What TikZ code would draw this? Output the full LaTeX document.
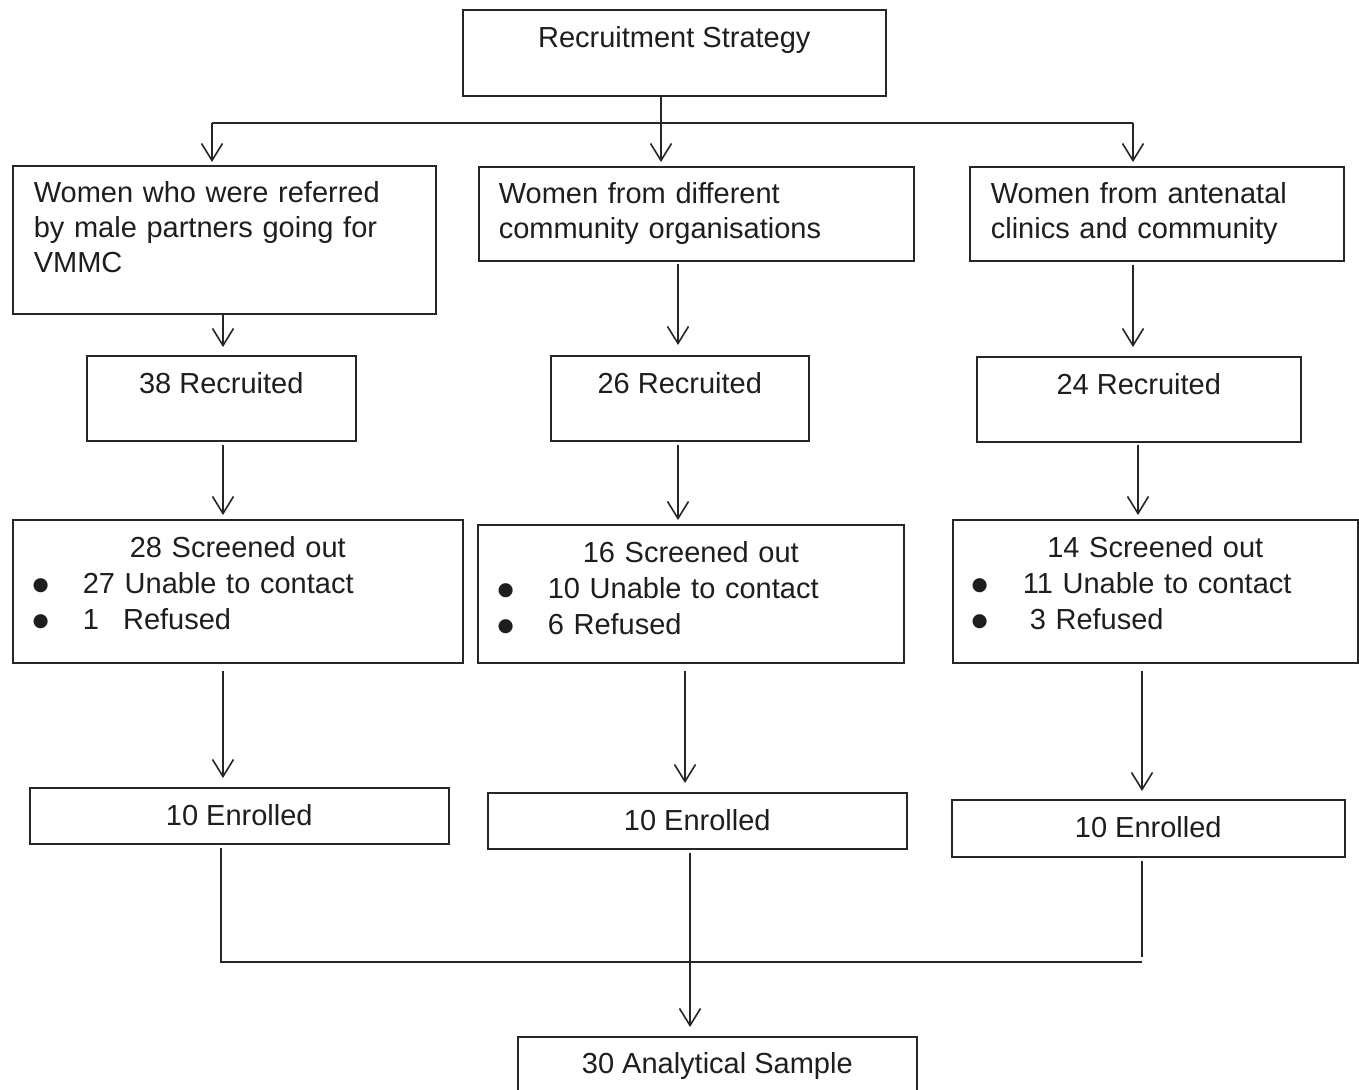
\documentclass[tikz,border=0pt]{standalone}
\usepackage{fontspec}
\setmainfont{Liberation Sans}
\newfontfamily\symfont{DejaVu Sans}
\usetikzlibrary{arrows.meta}
\definecolor{lc}{HTML}{262626}
\definecolor{tc}{HTML}{1E1E1E}
\newcommand{\bul}{\makebox[0pt][c]{\raisebox{3.5pt}{\symfont\fontsize{18.5}{20}\selectfont ●}}}
\begin{document}
\begin{tikzpicture}[x=1pt,y=-1pt,
  box/.style={draw=lc, line width=1.6pt, rectangle, inner sep=0pt, anchor=north west,
    text height=38pt, font=\fontsize{29}{35}\selectfont, align=center, text=tc},
  lbox/.style={box, align=left, text height=37pt},
  arr/.style={draw=lc, line width=1.6pt, -{Straight Barb[length=17pt,width=21pt,line width=1.6pt]}},
  ln/.style={draw=lc, line width=1.6pt}]
\useasboundingbox (0,0) rectangle (1359,1089);
\fill[white] (0,0) rectangle (1359,1089);
\begin{scope}
\clip (0,0) rectangle (1359,1089);
% level 0
\node[box, minimum width=423pt, text depth=48pt] (top) at (462,9) {Recruitment Strategy};
% level 1
\node[lbox, text width=381pt, inner xsep=21pt, text depth=111pt] (b1) at (12,165)
  {Women who were referred\\by male partners going for\\VMMC};
\node[lbox, text width=395pt, inner xsep=20pt, text depth=57pt] (b2) at (478,166)
  {Women from different\\community organisations};
\node[lbox, text width=332pt, inner xsep=21pt, text depth=57pt] (b3) at (969,166)
  {Women from antenatal\\clinics and community};
% level 2
\node[box, minimum width=269pt, text depth=47pt] (r1) at (86,355) {38 Recruited};
\node[box, minimum width=258pt, text depth=47pt] (r2) at (550,355) {26 Recruited};
\node[box, minimum width=324pt, text depth=47pt] (r3) at (976,356) {24 Recruited};
% level 3
\node[box, align=left, text width=450pt, text depth=105pt, font=\fontsize{29}{36}\selectfont] (s1) at (12,519)
  {{\centering 28 Screened out\par}%
   \hspace*{28pt}\bul\hspace*{42pt}27 Unable to contact\par
   \hspace*{28pt}\bul\hspace*{42pt}\makebox[40.3pt][l]{1}Refused\par};
\node[box, align=left, text width=426pt, text depth=100pt, font=\fontsize{29}{36}\selectfont] (s2) at (477,524)
  {{\centering 16 Screened out\par}%
   \hspace*{28pt}\bul\hspace*{42pt}10 Unable to contact\par
   \hspace*{28pt}\bul\hspace*{42pt}6 Refused\par};
\node[box, align=left, text width=405pt, text depth=105pt, font=\fontsize{29}{36}\selectfont] (s3) at (952,519)
  {{\centering 14 Screened out\par}%
   \hspace*{27pt}\bul\hspace*{43pt}11 Unable to contact\par
   \hspace*{27pt}\bul\hspace*{50pt}3 Refused\par};
% level 4
\node[box, minimum width=419pt, text depth=18pt] (e1) at (29,787) {10 Enrolled};
\node[box, minimum width=419pt, text depth=18pt] (e2) at (487,792) {10 Enrolled};
\node[box, minimum width=393pt, text depth=19pt] (e3) at (951,799) {10 Enrolled};
% final
\node[box, minimum width=399pt, text height=37pt, text depth=27pt] (fin) at (517,1036) {30 Analytical Sample};

% junction coordinates
\coordinate (jc) at (661,123);
\coordinate (jl) at (212,123);
\coordinate (jr) at (1133,123);
\coordinate (xa) at (223,0);
\coordinate (xb) at (678,0);
\coordinate (xc) at (1133,0);
\coordinate (xd) at (1138,0);
\coordinate (xe) at (685,0);
\coordinate (xf) at (1142,0);
\coordinate (xg) at (221,0);
\coordinate (xh) at (690,0);
\coordinate (hl) at (221,962);
\coordinate (hr) at (1142,962);
\coordinate (hre) at (1142,957);

% top split
\draw[arr, shorten >=4pt] (top.south -| jc) -- (b2.north -| jc);
\draw[ln] (jl) -- (jr);
\draw[arr, shorten >=3pt] (jl) -- (b1.north -| jl);
\draw[arr, shorten >=4pt] (jr) -- (b3.north -| jr);
% level 1 -> 2
\draw[arr, shorten >=8pt] (b1.south -| xa) -- (r1.north -| xa);
\draw[arr, shorten <=2pt, shorten >=10pt] (b2.south -| xb) -- (r2.north -| xb);
\draw[arr, shorten <=3pt, shorten >=9pt] (b3.south -| xc) -- (r3.north -| xc);
% level 2 -> 3
\draw[arr, shorten <=3pt, shorten >=4pt] (r1.south -| xa) -- (s1.north -| xa);
\draw[arr, shorten <=3pt, shorten >=4pt] (r2.south -| xb) -- (s2.north -| xb);
\draw[arr, shorten <=2pt, shorten >=4pt] (r3.south -| xd) -- (s3.north -| xd);
% level 3 -> 4
\draw[arr, shorten <=7pt, shorten >=9pt] (s1.south -| xa) -- (e1.north -| xa);
\draw[arr, shorten <=7pt, shorten >=9pt] (s2.south -| xe) -- (e2.north -| xe);
\draw[arr, shorten <=7pt, shorten >=8pt] (s3.south -| xf) -- (e3.north -| xf);
% merge
\draw[ln, shorten <=3pt] (e1.south -| xg) -- (hl) -- (hr);
\draw[ln, shorten <=3pt] (e3.south -| xf) -- (hre);
\draw[arr, shorten <=3pt, shorten >=9pt] (e2.south -| xh) -- (fin.north -| xh);
\end{scope}
\end{tikzpicture}
\end{document}
